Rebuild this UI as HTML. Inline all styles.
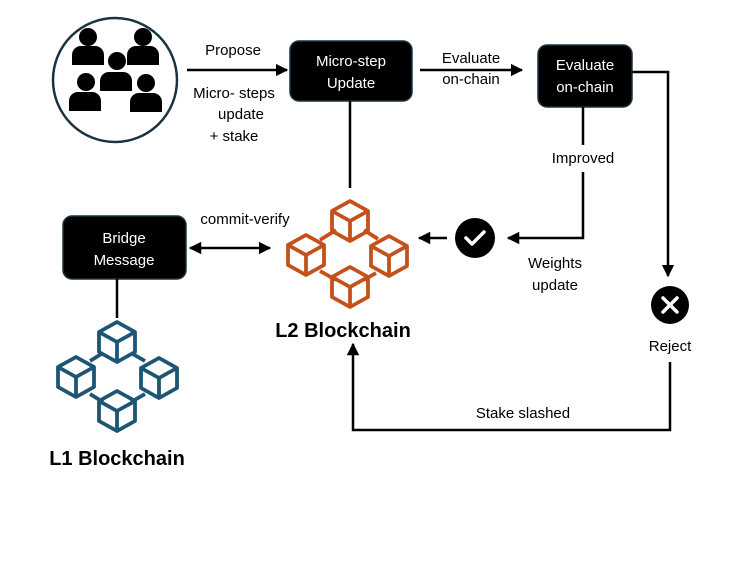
<!DOCTYPE html>
<html><head><meta charset="utf-8"><style>
html,body{margin:0;padding:0;background:#fff;}
svg{display:block;}
text{font-family:"Liberation Sans",sans-serif;}
</style></head><body>
<svg width="747" height="561" viewBox="0 0 747 561" xmlns="http://www.w3.org/2000/svg">
<defs>
<marker id="ah" viewBox="0 0 10 10" refX="9" refY="5" markerWidth="5" markerHeight="5" orient="auto-start-reverse"><path d="M0,0 L10,5 L0,10 z" fill="#000"/></marker>
<g id="cube"><polygon points="0,-20 18,-10 18,10 0,20 -18,10 -18,-10" fill="none" stroke-width="3.8" stroke-linejoin="round"/><polyline points="-18,-10 0,0 18,-10" fill="none" stroke-width="3.8"/><line x1="0" y1="0" x2="0" y2="20" stroke-width="3.8"/></g>
</defs>
<circle cx="115" cy="80" r="62" fill="#fff" stroke="#1a3340" stroke-width="2.5"/>
<g fill="#000">
<circle cx="88" cy="37" r="9"/><path d="M72,65 V55 a9,9 0 0 1 9,-9 h14 a9,9 0 0 1 9,9 V65 z"/>
<circle cx="143" cy="37" r="9"/><path d="M127,65 V55 a9,9 0 0 1 9,-9 h14 a9,9 0 0 1 9,9 V65 z"/>
<circle cx="117" cy="61" r="9"/><path d="M100,91 V81 a9,9 0 0 1 9,-9 h14 a9,9 0 0 1 9,9 V91 z"/>
<circle cx="86" cy="82" r="9"/><path d="M69,111 V101 a9,9 0 0 1 9,-9 h14 a9,9 0 0 1 9,9 V111 z"/>
<circle cx="146" cy="83" r="9"/><path d="M130,112 V102 a9,9 0 0 1 9,-9 h14 a9,9 0 0 1 9,9 V112 z"/>
</g>
<line x1="187" y1="70" x2="287" y2="70" stroke="#000" stroke-width="2.5" marker-end="url(#ah)"/>
<text x="233" y="55" font-size="15" text-anchor="middle">Propose</text>
<text x="234" y="98" font-size="15" text-anchor="middle">Micro- steps</text>
<text x="241" y="119" font-size="15" text-anchor="middle">update</text>
<text x="234" y="141" font-size="15" text-anchor="middle">+ stake</text>
<rect x="290" y="41" width="122" height="60" rx="9" fill="#000" stroke="#1a3340" stroke-width="1.5"/>
<text x="351" y="66" font-size="15" fill="#fff" text-anchor="middle">Micro-step</text>
<text x="351" y="88" font-size="15" fill="#fff" text-anchor="middle">Update</text>
<line x1="420" y1="70" x2="522" y2="70" stroke="#000" stroke-width="2.5" marker-end="url(#ah)"/>
<text x="471" y="63" font-size="15" text-anchor="middle">Evaluate</text>
<text x="471" y="84" font-size="15" text-anchor="middle">on-chain</text>
<rect x="538" y="45" width="94" height="62" rx="9" fill="#000" stroke="#1a3340" stroke-width="1.5"/>
<text x="585" y="70" font-size="15" fill="#fff" text-anchor="middle">Evaluate</text>
<text x="585" y="92" font-size="15" fill="#fff" text-anchor="middle">on-chain</text>
<rect x="63" y="216" width="123" height="63" rx="9" fill="#000" stroke="#1a3340" stroke-width="1.5"/>
<text x="124" y="243" font-size="15" fill="#fff" text-anchor="middle">Bridge</text>
<text x="124" y="265" font-size="15" fill="#fff" text-anchor="middle">Message</text>
<line x1="350" y1="101" x2="350" y2="188" stroke="#000" stroke-width="2.5"/>
<polyline points="632,72 668,72 668,276" fill="none" stroke="#000" stroke-width="2.5" marker-end="url(#ah)"/>
<line x1="583" y1="107" x2="583" y2="145" stroke="#000" stroke-width="2.5"/>
<text x="583" y="163" font-size="15" text-anchor="middle">Improved</text>
<polyline points="583,172 583,238 508,238" fill="none" stroke="#000" stroke-width="2.5" marker-end="url(#ah)"/>
<text x="555" y="268" font-size="15" text-anchor="middle">Weights</text>
<text x="555" y="290" font-size="15" text-anchor="middle">update</text>
<line x1="447" y1="238" x2="419" y2="238" stroke="#000" stroke-width="2.5" marker-end="url(#ah)"/>
<circle cx="475" cy="238" r="20" fill="#000"/>
<polyline points="466,238 472,244 484,232" fill="none" stroke="#fff" stroke-width="3.5" stroke-linecap="round" stroke-linejoin="round"/>
<circle cx="670" cy="305" r="19" fill="#000"/>
<path d="M663,298 L677,312 M677,298 L663,312" stroke="#fff" stroke-width="3.5" stroke-linecap="round"/>
<text x="670" y="351" font-size="15" text-anchor="middle">Reject</text>
<polyline points="670,362 670,430 353,430 353,344" fill="none" stroke="#000" stroke-width="2.5" marker-end="url(#ah)"/>
<text x="523" y="418" font-size="15" text-anchor="middle">Stake slashed</text>
<line x1="190" y1="248" x2="270" y2="248" stroke="#000" stroke-width="2.5" marker-start="url(#ah)" marker-end="url(#ah)"/>
<text x="245" y="224" font-size="15" text-anchor="middle">commit-verify</text>
<line x1="117" y1="279" x2="117" y2="318" stroke="#000" stroke-width="2.5"/>
<g stroke="#c4501b">
<use href="#cube" x="350" y="221"/><use href="#cube" x="306" y="255"/><use href="#cube" x="389" y="256"/><use href="#cube" x="350" y="287"/>
<line x1="320" y1="240" x2="336" y2="230" stroke-width="3.8"/><line x1="364" y1="230" x2="378" y2="239" stroke-width="3.8"/>
<line x1="320" y1="271" x2="336" y2="280" stroke-width="3.8"/><line x1="364" y1="280" x2="376" y2="273" stroke-width="3.8"/>
</g>
<text x="343" y="337" font-size="20" font-weight="bold" text-anchor="middle">L2 Blockchain</text>
<g stroke="#1d5675">
<use href="#cube" x="117" y="342"/><use href="#cube" x="76" y="377"/><use href="#cube" x="159" y="378"/><use href="#cube" x="117" y="411"/>
<line x1="90" y1="361" x2="103" y2="353" stroke-width="3.8"/><line x1="131" y1="353" x2="145" y2="361" stroke-width="3.8"/>
<line x1="90" y1="394" x2="103" y2="402" stroke-width="3.8"/><line x1="131" y1="402" x2="145" y2="394" stroke-width="3.8"/>
</g>
<text x="117" y="465" font-size="20" font-weight="bold" text-anchor="middle">L1 Blockchain</text>
</svg>
</body></html>
